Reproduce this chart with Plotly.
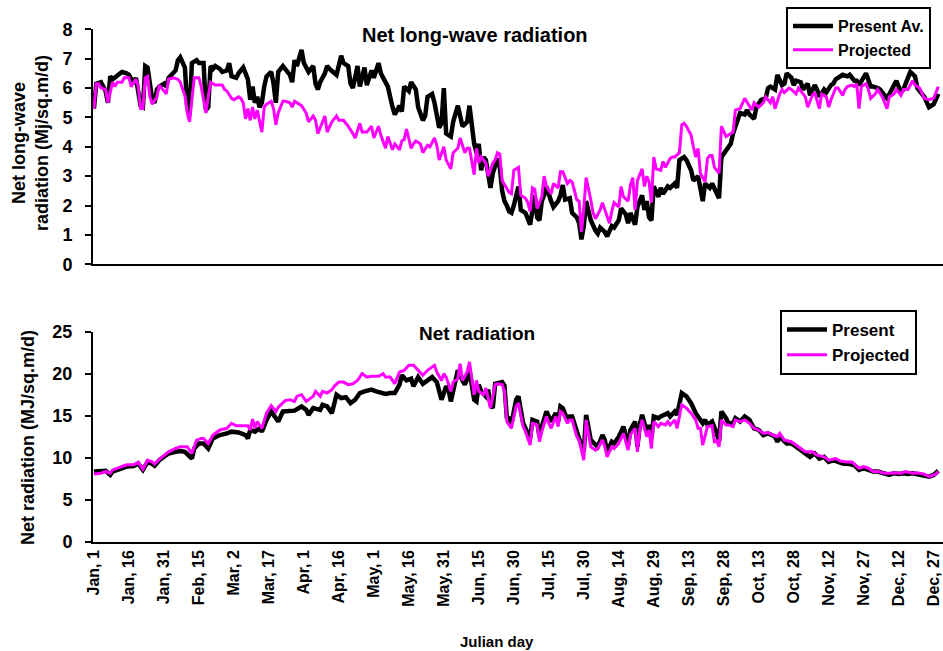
import plotly.graph_objects as go

# ---------------- data ----------------
tick_days = [1, 16, 31, 46, 61, 76, 91, 106, 121, 136, 151, 166, 181,
             196, 211, 226, 241, 256, 271, 286, 301, 316, 331, 346, 361]
tick_text = ["Jan, 1", "Jan, 16", "Jan, 31", "Feb, 15", "Mar, 2", "Mar, 17",
             "Apr, 1", "Apr, 16", "May, 1", "May, 16", "May, 31", "Jun, 15",
             "Jun, 30", "Jul, 15", "Jul, 30", "Aug, 14", "Aug, 29", "Sep, 13",
             "Sep, 28", "Oct, 13", "Oct, 28", "Nov, 12", "Nov, 27", "Dec, 12",
             "Dec, 27"]

# Net long-wave radiation, present average
lw_pres_day = [1, 2, 4, 5, 6, 7, 8, 9, 11, 13, 15, 16, 18, 19, 21, 22, 23, 24, 26, 27,
               28, 29, 31, 32, 33, 36, 37, 38, 40, 41, 42, 43, 45, 46, 48, 49, 50, 51, 52, 53,
               55, 56, 58, 59, 60, 62, 63, 65, 66, 67, 68, 69, 70, 71, 72, 73, 74, 75, 77, 78,
               79, 80, 82, 83, 85, 86, 87, 88, 90, 91, 93, 95, 96, 97, 98, 100, 101, 102, 104, 105,
               107, 108, 110, 111, 112, 114, 115, 117, 118, 120, 121, 123, 124, 126, 127, 129, 130, 132, 133, 134,
               136, 137, 139, 140, 142, 143, 144, 146, 147, 149, 150, 151, 152, 154, 155, 157, 158, 159, 161, 162,
               164, 165, 166, 167, 168, 169, 171, 172, 174, 175, 176, 177, 178, 179, 180, 181, 183, 184, 186, 187,
               188, 190, 191, 192, 193, 194, 195, 197, 198, 200, 201, 202, 203, 205, 206, 208, 209, 210, 211, 212,
               214, 216, 217, 218, 220, 221, 223, 224, 226, 227, 229, 230, 231, 233, 234, 236, 237, 238, 239, 240,
               241, 243, 244, 245, 247, 248, 250, 251, 252, 254, 255, 257, 258, 260, 261, 262, 263, 265, 266, 268,
               269, 270, 272, 274, 275, 277, 278, 280, 281, 282, 284, 285, 287, 289, 290, 291, 293, 294, 296, 297,
               298, 300, 301, 302, 304, 305, 307, 308, 310, 311, 312, 314, 315, 317, 318, 319, 321, 322, 324, 325,
               327, 328, 329, 331, 332, 334, 335, 337, 338, 339, 341, 342, 344, 345, 347, 348, 349, 351, 353, 354,
               357, 359, 361, 363]
lw_pres = [5.3, 6.15, 6.2, 6.05, 5.9, 5.5, 6.4, 6.3, 6.45, 6.55, 6.5, 6.45, 6.15, 6.35, 5.4, 5.35, 6.75, 6.7, 5.6, 5.5,
           5.95, 6.05, 6.15, 6.05, 6.35, 6.6, 6.95, 7.05, 6.7, 5.35, 5.1, 6.85, 6.95, 6.85, 6.85, 5.25, 5.35, 6.75, 6.65, 6.75,
           6.65, 6.55, 6.6, 6.85, 6.4, 6.35, 6.5, 6.7, 6.5, 6.3, 5.6, 6.05, 5.5, 5.7, 5.35, 5.5, 6.05, 6.4, 6.55, 6.15,
           5.5, 6.55, 6.75, 6.65, 6.45, 6.2, 6.95, 6.75, 7.3, 6.85, 6.55, 6.75, 6.15, 5.95, 6.2, 6.5, 6.75, 6.65, 6.5, 6.45,
           7.1, 6.85, 6.75, 6.15, 6.0, 6.75, 6.05, 6.7, 6.1, 6.6, 6.35, 6.85, 6.5, 6.2, 6.05, 5.35, 5.1, 5.4, 5.2, 6.05,
           5.9, 6.2, 5.95, 5.35, 4.9, 5.05, 5.7, 5.8, 5.5, 4.65, 4.8, 6.0, 4.45, 4.35, 4.85, 5.4, 5.05, 4.7, 4.85, 5.4,
           4.1, 3.8, 4.1, 3.2, 3.65, 3.55, 2.6, 3.1, 3.6, 3.3, 2.5, 2.15, 2.0, 1.8, 1.75, 2.0, 2.65, 1.85, 1.75, 1.55,
           1.35, 2.35, 1.6, 1.5, 2.15, 2.35, 2.65, 2.15, 1.95, 2.15, 2.35, 2.7, 2.2, 2.25, 1.75, 1.6, 1.4, 0.85, 1.3, 2.15,
           1.5, 1.15, 1.05, 1.25, 1.1, 0.95, 1.3, 1.25, 1.5, 1.9, 1.7, 1.4, 1.75, 1.35, 1.95, 2.35, 1.85, 2.15, 1.6, 1.5,
           2.65, 2.3, 2.6, 2.4, 2.65, 2.6, 2.75, 2.6, 3.55, 3.65, 3.55, 3.2, 2.85, 3.0, 2.55, 2.15, 2.75, 2.6, 2.75, 2.35,
           2.25, 3.65, 3.85, 4.1, 4.45, 5.0, 5.15, 5.1, 5.25, 5.1, 4.95, 5.35, 5.6, 5.65, 6.0, 6.05, 5.95, 6.45, 6.1, 6.15,
           6.5, 6.35, 6.1, 6.25, 6.2, 5.95, 6.15, 5.75, 6.1, 5.95, 5.7, 5.95, 5.85, 6.1, 6.15, 6.3, 6.4, 6.45, 6.4, 6.45,
           6.25, 6.25, 6.1, 6.4, 6.5, 6.05, 6.05, 6.0, 5.95, 5.85, 5.65, 5.8, 6.1, 6.25, 5.85, 5.95, 6.15, 6.55, 6.4, 6.0,
           5.7, 5.35, 5.45, 5.8]

# Net long-wave radiation, projected
lw_proj_day = [1, 2, 3, 4, 6, 7, 9, 10, 11, 13, 14, 16, 17, 19, 20, 21, 22, 23, 24, 25,
               26, 28, 29, 31, 32, 33, 35, 37, 38, 40, 41, 42, 43, 44, 46, 47, 48, 49, 50, 51,
               53, 54, 56, 57, 58, 60, 61, 63, 64, 65, 66, 67, 68, 69, 70, 71, 72, 73, 74, 75,
               77, 78, 79, 80, 82, 83, 85, 86, 87, 89, 90, 92, 93, 95, 96, 97, 99, 100, 101, 103,
               105, 106, 108, 110, 112, 113, 115, 116, 118, 120, 121, 123, 124, 126, 127, 129, 130, 132, 133, 134,
               135, 137, 138, 139, 141, 142, 144, 145, 147, 148, 149, 151, 152, 154, 155, 157, 158, 160, 161, 162,
               164, 165, 166, 167, 169, 170, 172, 173, 174, 175, 176, 178, 179, 180, 181, 183, 184, 186, 187, 188,
               189, 190, 191, 193, 194, 195, 197, 198, 200, 201, 202, 204, 205, 206, 208, 209, 210, 211, 212, 214,
               215, 216, 218, 219, 221, 222, 223, 224, 226, 227, 228, 230, 231, 232, 233, 234, 236, 237, 238, 239,
               240, 241, 242, 244, 245, 246, 248, 249, 250, 252, 253, 254, 255, 257, 258, 259, 260, 261, 263, 264,
               265, 266, 267, 268, 269, 270, 272, 273, 275, 276, 278, 280, 281, 283, 284, 286, 288, 289, 291, 292,
               293, 295, 296, 297, 299, 300, 302, 303, 305, 306, 307, 309, 310, 312, 313, 315, 316, 317, 319, 320,
               322, 323, 324, 326, 327, 328, 329, 330, 332, 333, 334, 336, 337, 339, 340, 341, 342, 344, 345, 347,
               348, 350, 352, 353, 355, 357, 359, 361, 363]
lw_proj = [5.3, 6.15, 6.15, 6.0, 5.95, 5.5, 6.2, 6.05, 6.2, 6.2, 6.35, 6.35, 6.05, 6.3, 6.05, 5.3, 5.3, 6.35, 6.4, 5.7,
           5.45, 5.7, 6.1, 5.9, 5.8, 6.3, 6.35, 6.3, 6.2, 5.75, 5.15, 4.85, 5.7, 6.35, 6.35, 6.05, 5.6, 5.15, 5.7, 6.2,
           6.1, 6.1, 6.1, 5.95, 5.9, 5.65, 5.6, 5.7, 5.65, 5.5, 4.95, 5.3, 4.9, 5.35, 4.95, 5.25, 4.9, 4.5, 5.35, 5.45,
           5.55, 5.3, 4.75, 5.15, 5.55, 5.55, 5.5, 5.35, 5.55, 5.45, 5.4, 5.15, 4.85, 5.05, 4.9, 4.45, 4.9, 5.05, 4.5, 4.85,
           5.05, 4.9, 4.9, 4.7, 4.45, 4.3, 4.8, 4.5, 4.5, 4.7, 4.3, 4.7, 4.4, 3.95, 4.35, 3.9, 4.1, 3.9, 4.2, 4.25,
           4.6, 3.95, 4.1, 4.2, 4.1, 3.8, 4.05, 4.0, 4.3, 4.05, 3.55, 4.0, 3.55, 3.25, 3.8, 3.95, 4.3, 3.8, 3.95, 3.95,
           3.05, 3.95, 3.45, 3.65, 3.45, 3.0, 3.45, 3.55, 3.8, 3.75, 2.85, 2.55, 2.45, 2.4, 3.2, 3.3, 2.35, 2.25, 2.1, 1.8,
           2.6, 2.55, 1.9, 2.3, 3.0, 2.65, 2.4, 2.75, 2.6, 3.15, 3.15, 2.75, 2.85, 2.8, 2.2, 2.15, 1.1, 1.9, 2.95, 2.2,
           1.75, 1.55, 1.85, 2.1, 1.6, 1.4, 1.8, 2.1, 1.95, 2.65, 2.3, 2.15, 2.7, 2.95, 1.85, 2.85, 3.25, 2.65, 3.0, 2.8,
           2.1, 3.65, 3.25, 3.2, 3.5, 3.3, 3.6, 3.65, 3.65, 3.8, 4.75, 4.8, 4.7, 4.4, 4.0, 3.65, 3.95, 3.1, 2.8, 3.6,
           3.7, 3.7, 3.3, 3.2, 3.1, 4.7, 4.35, 4.4, 4.5, 5.25, 5.3, 5.65, 5.5, 5.25, 5.5, 5.35, 5.5, 5.7, 5.5, 5.7,
           5.3, 5.8, 5.95, 5.85, 6.0, 5.95, 5.8, 6.0, 5.8, 5.7, 5.35, 5.75, 5.85, 5.3, 5.8, 5.7, 5.35, 5.6, 6.0, 6.0,
           5.75, 5.95, 6.05, 6.1, 6.05, 6.15, 5.3, 6.05, 6.15, 5.95, 5.65, 5.8, 5.95, 5.7, 5.5, 5.3, 5.7, 5.8, 5.95, 5.75,
           5.95, 5.95, 6.25, 6.1, 6.0, 5.65, 5.6, 5.65, 6.05]

# Net radiation, present
nr_pres_day = [1, 4, 6, 8, 9, 12, 15, 18, 20, 22, 24, 26, 27, 29, 31, 33, 36, 38, 40, 43,
               44, 46, 48, 50, 52, 55, 58, 60, 63, 66, 67, 68, 70, 72, 73, 75, 77, 79, 80, 82,
               85, 87, 90, 92, 93, 95, 98, 99, 101, 103, 105, 107, 109, 111, 113, 115, 117, 120, 122, 124,
               126, 128, 130, 132, 133, 135, 137, 138, 140, 142, 144, 146, 148, 150, 152, 153, 154, 156, 157, 159,
               160, 161, 162, 164, 165, 166, 167, 169, 170, 171, 172, 173, 175, 176, 177, 178, 179, 180, 182, 183,
               185, 186, 188, 189, 191, 192, 193, 195, 196, 197, 199, 200, 201, 202, 204, 205, 206, 208, 209, 211,
               212, 214, 216, 217, 219, 220, 221, 223, 224, 226, 228, 229, 230, 231, 233, 234, 235, 236, 238, 239,
               240, 241, 243, 244, 246, 247, 248, 250, 251, 253, 255, 257, 259, 260, 262, 263, 264, 266, 267, 268,
               269, 270, 272, 273, 275, 276, 278, 280, 282, 284, 286, 288, 290, 293, 294, 295, 298, 300, 302, 304,
               306, 308, 310, 312, 314, 316, 318, 320, 322, 325, 327, 329, 331, 333, 335, 337, 340, 342, 344, 346,
               348, 350, 352, 354, 357, 359, 361, 363]
nr_pres = [8.35, 8.35, 8.45, 7.95, 8.35, 8.65, 8.95, 9.0, 9.3, 8.55, 9.5, 9.25, 9.05, 9.7, 10.1, 10.5, 10.7, 10.8, 10.7, 9.9,
           11.1, 11.7, 11.7, 11.1, 12.3, 12.7, 12.9, 13.1, 13.0, 12.7, 12.3, 13.3, 13.1, 13.5, 13.1, 14.5, 15.5, 14.7, 14.3, 15.5,
           15.6, 15.6, 16.1, 15.7, 15.1, 15.9, 15.7, 16.3, 16.1, 15.3, 17.5, 17.1, 17.2, 16.5, 16.9, 17.7, 17.9, 18.1, 17.9, 17.7,
           17.6, 17.7, 17.7, 18.7, 19.8, 19.2, 19.4, 18.5, 19.6, 18.8, 19.2, 19.6, 19.0, 16.9, 18.5, 18.1, 16.7, 19.0, 20.4, 19.2,
           18.7, 19.4, 20.4, 16.9, 16.7, 18.7, 17.9, 17.3, 18.1, 16.3, 15.9, 18.8, 19.0, 19.0, 18.6, 14.8, 14.7, 14.1, 16.9, 17.3,
           14.1, 13.5, 12.3, 14.5, 14.3, 12.5, 13.7, 15.5, 14.7, 14.3, 15.3, 14.3, 16.1, 15.9, 14.5, 14.9, 14.9, 12.9, 12.3, 10.7,
           15.1, 12.1, 11.5, 11.3, 12.7, 12.1, 10.7, 11.9, 11.7, 12.5, 13.7, 12.7, 11.5, 13.3, 14.3, 11.3, 13.9, 15.1, 13.1, 13.9,
           12.3, 14.9, 14.7, 14.9, 15.1, 15.3, 14.9, 15.5, 15.1, 17.7, 17.3, 16.5, 15.3, 14.9, 14.1, 14.5, 13.9, 14.3, 13.7, 12.9,
           11.9, 15.5, 14.7, 14.1, 14.1, 14.7, 14.3, 14.9, 14.5, 13.5, 13.3, 12.7, 12.9, 12.5, 11.9, 12.5, 11.7, 11.7, 11.3, 10.9,
           10.5, 10.1, 10.5, 9.9, 10.1, 9.5, 9.7, 9.5, 9.3, 9.25, 9.1, 8.55, 8.75, 8.55, 8.35, 8.35, 8.15, 7.95, 8.15, 8.05,
           8.15, 8.05, 8.15, 8.05, 7.95, 7.75, 7.95, 8.45]

# Net radiation, projected
nr_proj_day = [1, 4, 6, 8, 9, 12, 15, 18, 20, 22, 24, 26, 27, 29, 31, 33, 36, 38, 41, 43,
               45, 47, 48, 50, 52, 55, 58, 60, 62, 65, 67, 68, 69, 70, 71, 73, 74, 75, 77, 79,
               80, 83, 85, 87, 88, 90, 92, 95, 96, 98, 99, 101, 103, 104, 106, 108, 110, 112, 114, 116,
               118, 120, 123, 125, 126, 128, 130, 132, 134, 136, 138, 140, 142, 144, 145, 147, 148, 150, 151, 152,
               154, 155, 157, 158, 159, 161, 162, 164, 165, 166, 168, 169, 171, 173, 174, 176, 177, 178, 179, 180,
               182, 183, 185, 186, 188, 189, 191, 192, 193, 195, 196, 197, 199, 200, 201, 202, 204, 205, 206, 208,
               209, 211, 212, 214, 216, 217, 219, 220, 221, 223, 224, 226, 228, 229, 230, 231, 233, 234, 235, 236,
               238, 239, 240, 241, 243, 244, 246, 247, 248, 250, 251, 253, 255, 257, 259, 260, 261, 262, 264, 266,
               267, 268, 269, 270, 272, 273, 275, 276, 278, 280, 282, 284, 286, 288, 290, 292, 294, 295, 297, 300,
               302, 304, 306, 309, 311, 314, 316, 319, 321, 324, 326, 329, 331, 333, 335, 337, 340, 342, 344, 347,
               349, 352, 354, 357, 359, 362, 363]
nr_proj = [8.05, 8.15, 8.35, 8.15, 8.55, 8.85, 9.15, 9.15, 9.45, 8.65, 9.7, 9.5, 9.25, 9.8, 10.3, 10.7, 11.1, 11.3, 11.3, 10.5,
           12.1, 12.3, 12.3, 11.7, 12.7, 13.3, 13.5, 14.1, 13.8, 13.8, 13.8, 13.3, 14.6, 13.5, 14.3, 13.5, 14.3, 15.3, 16.2, 15.5,
           16.0, 16.8, 16.9, 16.7, 17.3, 17.5, 16.7, 17.3, 17.9, 17.3, 17.9, 17.7, 18.1, 18.5, 19.0, 19.0, 18.7, 18.8, 19.2, 20.0,
           19.6, 19.7, 19.7, 20.0, 19.6, 19.6, 18.8, 20.2, 20.4, 21.0, 21.0, 20.4, 19.8, 20.4, 20.6, 21.0, 20.2, 19.2, 20.0, 19.6,
           17.9, 19.0, 19.4, 21.2, 19.2, 20.2, 21.4, 17.5, 19.2, 17.9, 17.5, 18.3, 15.9, 18.7, 18.8, 18.7, 17.9, 14.3, 13.9, 13.5,
           16.1, 16.5, 13.7, 13.1, 11.5, 14.1, 13.9, 11.9, 13.1, 14.9, 14.1, 13.5, 14.9, 13.7, 15.5, 15.3, 14.1, 14.5, 14.5, 12.5,
           12.1, 9.7, 14.5, 11.3, 10.9, 11.1, 12.1, 11.3, 10.1, 11.3, 11.1, 11.7, 12.9, 11.9, 10.9, 12.7, 13.5, 10.7, 13.3, 14.5,
           12.5, 13.3, 11.1, 14.3, 13.7, 14.1, 13.9, 14.3, 13.9, 14.5, 13.5, 16.3, 15.9, 15.3, 14.5, 13.5, 13.5, 11.5, 13.7, 13.8,
           11.9, 12.0, 11.3, 14.5, 13.9, 13.9, 13.7, 14.5, 14.3, 14.5, 14.1, 13.5, 13.3, 12.9, 13.0, 12.7, 12.5, 12.9, 12.1, 11.9,
           11.5, 11.1, 10.7, 10.7, 10.3, 10.1, 9.7, 9.9, 9.6, 9.5, 9.5, 8.75, 8.95, 8.75, 8.35, 8.35, 8.15, 8.15, 8.2, 8.15,
           8.35, 8.15, 8.2, 8.05, 7.75, 8.05, 8.35]

# ---------------- figure ----------------
W, H = 943, 651
FONT = "Liberation Sans, Arial, sans-serif"
BLACK = "#000000"
MAGENTA = "#FF00FF"


def px_x(p):
    return p / W


def px_y(p):
    return 1 - p / H


fig = go.Figure()
fig.add_trace(go.Scatter(x=lw_pres_day, y=lw_pres, mode="lines", name="Present Av.",
                         line=dict(color=BLACK, width=4.5), xaxis="x", yaxis="y", legend="legend"))
fig.add_trace(go.Scatter(x=lw_proj_day, y=lw_proj, mode="lines", name="Projected",
                         line=dict(color=MAGENTA, width=3), xaxis="x", yaxis="y", legend="legend"))
fig.add_trace(go.Scatter(x=nr_pres_day, y=nr_pres, mode="lines", name="Present",
                         line=dict(color=BLACK, width=4.5), xaxis="x2", yaxis="y2", legend="legend2"))
fig.add_trace(go.Scatter(x=nr_proj_day, y=nr_proj, mode="lines", name="Projected",
                         line=dict(color=MAGENTA, width=3), xaxis="x2", yaxis="y2", legend="legend2"))

xdom = [px_x(93), 1.0]
xrange_ = [0.6, 365.0]
tickfont = dict(family=FONT, size=18, color=BLACK, weight="bold")

common_y = dict(showgrid=False, zeroline=False, showline=True, linecolor=BLACK, linewidth=2,
                ticks="outside", ticklen=6, tickwidth=2, tickcolor=BLACK, tickfont=tickfont,
                ticklabelstandoff=9, fixedrange=True, automargin=False)

fig.update_layout(
    template="none",
    width=W, height=H, autosize=False,
    margin=dict(l=0, r=0, t=0, b=0, pad=0, autoexpand=False),
    paper_bgcolor="white", plot_bgcolor="white",
    font=dict(family=FONT, color=BLACK),
    xaxis=dict(domain=xdom, range=xrange_, anchor="y", showgrid=False, zeroline=False,
               showline=True, linecolor=BLACK, linewidth=2, showticklabels=False, ticks="",
               automargin=False),
    yaxis=dict(domain=[px_y(264.3), px_y(29.3)], range=[0, 8], dtick=1, anchor="x", **common_y),
    xaxis2=dict(domain=xdom, range=xrange_, anchor="y2", showgrid=False, zeroline=False,
                showline=True, linecolor=BLACK, linewidth=2, tickmode="array",
                tickvals=tick_days, ticktext=tick_text, tickangle=-90, ticks="",
                ticklabeloverflow="allow", automargin=False,
                tickfont=dict(family=FONT, size=16, color=BLACK, weight="bold")),
    yaxis2=dict(domain=[px_y(541.7), px_y(331.7)], range=[0, 25], dtick=5, anchor="x2", **common_y),
    legend=dict(x=px_x(786), y=px_y(7), xanchor="left", yanchor="top",
                bgcolor="white", bordercolor=BLACK, borderwidth=2,
                font=dict(family=FONT, size=16, color=BLACK, weight="bold"),
                tracegroupgap=0, itemwidth=40),
    legend2=dict(x=px_x(780), y=px_y(310), xanchor="left", yanchor="top",
                 bgcolor="white", bordercolor=BLACK, borderwidth=2,
                 font=dict(family=FONT, size=17, color=BLACK, weight="bold"),
                 tracegroupgap=0, itemwidth=40),
    showlegend=True,
)

fig.add_annotation(text="Net long-wave radiation", x=px_x(475), y=px_y(35), xref="paper", yref="paper",
                   showarrow=False, font=dict(family=FONT, size=20, color=BLACK, weight="bold"),
                   xanchor="center", yanchor="middle")
fig.add_annotation(text="Net radiation", x=px_x(477), y=px_y(333), xref="paper", yref="paper",
                   showarrow=False, font=dict(family=FONT, size=19, color=BLACK, weight="bold"),
                   xanchor="center", yanchor="middle")
fig.add_annotation(text="Net long-wave<br>radiation (Mj/sq.m/d)", x=px_x(30), y=px_y(143),
                   xref="paper", yref="paper", showarrow=False, textangle=-90,
                   font=dict(family=FONT, size=18, color=BLACK, weight="bold"),
                   xanchor="center", yanchor="middle")
fig.add_annotation(text="Net radiation (MJ/sq.m/d)", x=px_x(28), y=px_y(438),
                   xref="paper", yref="paper", showarrow=False, textangle=-90,
                   font=dict(family=FONT, size=18, color=BLACK, weight="bold"),
                   xanchor="center", yanchor="middle")
fig.add_annotation(text="Julian day", x=px_x(497), y=px_y(641), xref="paper", yref="paper",
                   showarrow=False, font=dict(family=FONT, size=15, color=BLACK, weight="bold"),
                   xanchor="center", yanchor="middle")

fig.write_html("out.html", post_script="document.body.style.margin='0';")
